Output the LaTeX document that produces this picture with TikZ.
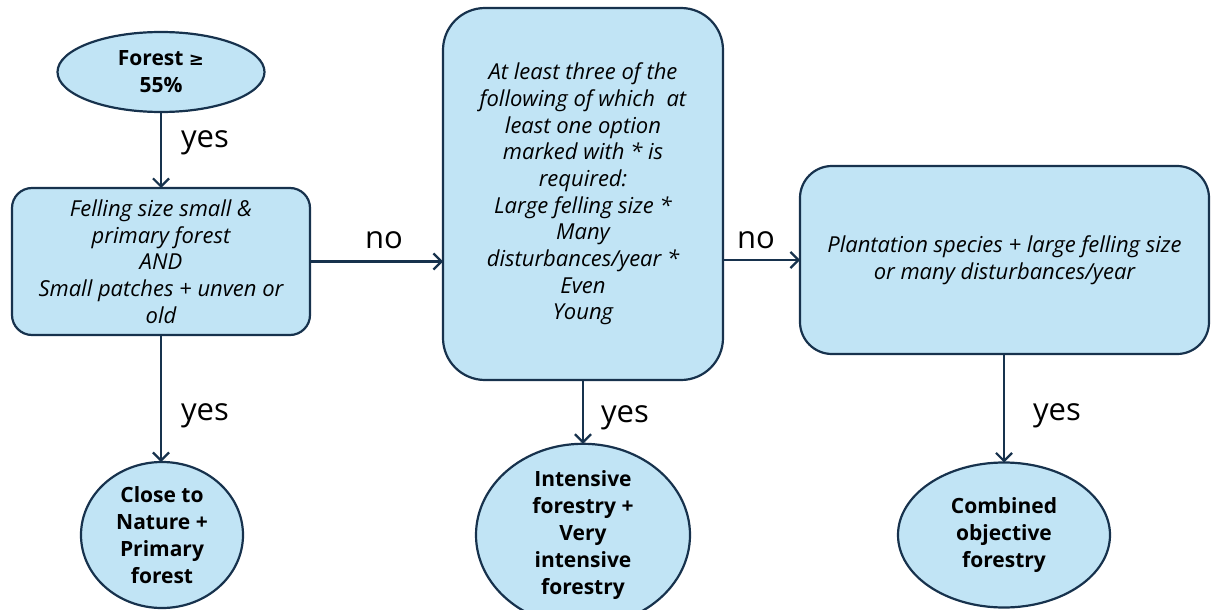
\documentclass[tikz,border=0pt]{standalone}
\usepackage{fontspec}
\setmainfont{Open Sans}
\newfontfamily\dejavu{DejaVu Sans}
\usetikzlibrary{arrows.meta,shapes.geometric}
\definecolor{boxfill}{HTML}{C1E4F5}
\definecolor{boxline}{HTML}{17324D}
\begin{document}
\begin{tikzpicture}[x=1pt,y=-1pt,
  every node/.style={inner sep=0pt, outer sep=0pt},
  rbox/.style={draw=boxline, fill=boxfill, line width=2.2pt, rounded corners=#1, align=center,
     font=\fontsize{22}{26.7}\selectfont\itshape},
  oval/.style={draw=boxline, fill=boxfill, line width=2.2pt, ellipse, align=center,
     font=\fontsize{21}{27}\selectfont\bfseries},
  conn/.style={draw=boxline, line width=2.2pt, -{Straight Barb[length=8pt,width=16pt,line width=2.2pt]}},
  lbl/.style={font=\fontsize{31}{34}\selectfont, text=black}
]
\useasboundingbox (0,0) rectangle (1216,610);

\node[oval, minimum width=207pt, minimum height=80pt] (forest) at (161,72) {Forest {\dejavu\fontsize{18}{27}\selectfont ≥}\\55\%};

\node[rbox=20pt, minimum width=298pt, minimum height=147pt] (b1) at (161,261.5)
 {Felling size small \&\\primary forest\\AND\\Small patches + unven or\\old};

\node[rbox=42pt, minimum width=280pt, minimum height=372pt] (b2) at (583,194)
 {At least three of the\\following of which \ at\\least one option\\marked with * is\\required:\\Large felling size *\\Many\\disturbances/year *\\Even\\Young};

\node[rbox=32pt, minimum width=409pt, minimum height=188pt] (b3) at (1004.5,260)
 {Plantation species + large felling size\\or many disturbances/year};

\node[oval, minimum width=162pt, minimum height=146pt] (e1) at (162,535)
 {Close to\\Nature +\\Primary\\forest};
\node[oval, minimum width=214pt, minimum height=145pt] (e2) at (583,535)
 {Intensive\\forestry +\\Very\\intensive\\forestry};
\node[oval, minimum width=212pt, minimum height=145pt] (e3) at (1004,535)
 {Combined\\objective\\forestry};

\draw[conn] (forest.south) -- (b1.north);
\draw[conn] (b1.east) -- (b2.west |- b1.east);
\draw[conn] (b2.east |- b3.west) -- (b3.west);
\draw[conn] (b1.south) -- (e1.north -| b1.south);
\draw[conn] (b2.south) -- (e2.north);
\draw[conn] (b3.south -| e3.north) -- (e3.north);

\node[lbl] (y1) at (205,143) {yes};
\node[lbl] (n1) at (384,240) {no};
\node[lbl] (n2) at (756,240) {no};
\node[lbl] (y2) at (205,416) {yes};
\node[lbl] (y3) at (625,418) {yes};
\node[lbl] (y4) at (1057,416) {yes};
\end{tikzpicture}
\end{document}
